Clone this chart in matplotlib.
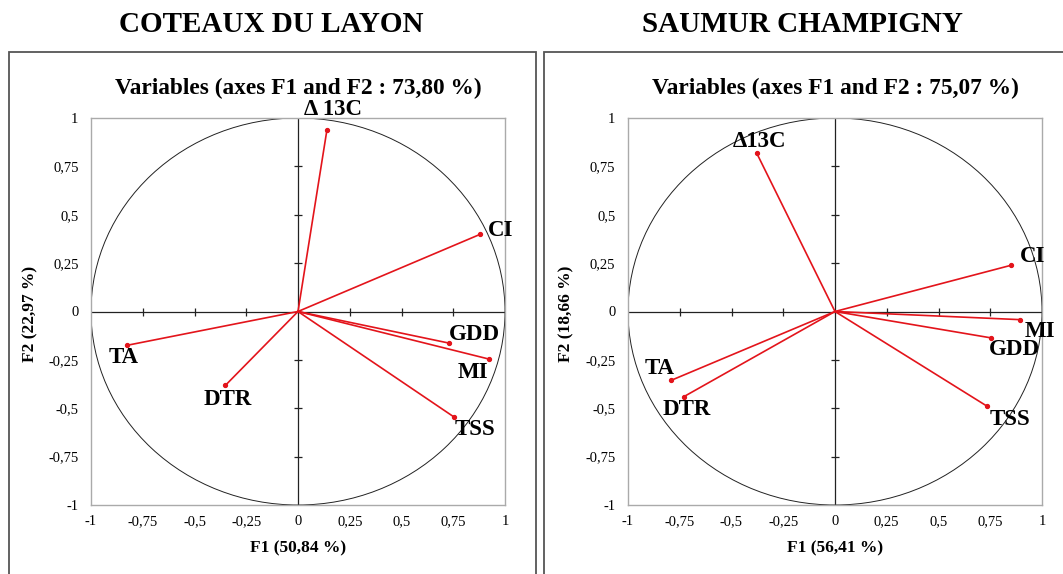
import numpy as np
import matplotlib.pyplot as plt
from matplotlib.patches import Circle, Rectangle

plt.rcParams['font.family'] = ['Liberation Serif', 'DejaVu Serif']

# ============================================
# data: PCA variable coordinates (F1, F2)
# ============================================
variables_layon = ['Δ 13C', 'CI', 'GDD', 'MI', 'TSS', 'TA', 'DTR']
f1_layon = [0.14, 0.878, 0.728, 0.923, 0.752, -0.827, -0.351]
f2_layon = [0.94, 0.398, -0.163, -0.246, -0.544, -0.175, -0.382]

variables_saumur = ['Δ13C', 'CI', 'MI', 'GDD', 'TSS', 'TA', 'DTR']
f1_saumur = [-0.379, 0.851, 0.892, 0.752, 0.734, -0.792, -0.730]
f2_saumur = [0.820, 0.239, -0.042, -0.136, -0.489, -0.356, -0.440]

# label anchors (data coords) for each variable name
lab_layon = [(0.17, 1.045), (0.98, 0.42), (0.85, -0.12), (0.845, -0.315),
             (0.853, -0.612), (-0.84, -0.24), (-0.34, -0.455)]
lab_saumur = [(-0.364, 0.88), (0.956, 0.285), (0.99, -0.105), (0.866, -0.197),
              (0.846, -0.56), (-0.845, -0.294), (-0.717, -0.505)]

ticks = [-1, -0.75, -0.5, -0.25, 0, 0.25, 0.5, 0.75, 1]
tick_labels = ['-1', '-0,75', '-0,5', '-0,25', '0', '0,25', '0,5', '0,75', '1']

W, H = 1063, 574
fig = plt.figure(figsize=(W / 100, H / 100), dpi=100)

# panel frames
for x0, x1 in [(9, 536), (544, 1075)]:
    fig.patches.append(Rectangle((x0 / W, -0.05), (x1 - x0) / W, 1 - 52 / H + 0.05,
                                 transform=fig.transFigure, fill=False,
                                 edgecolor='#555555', linewidth=1.3))

red = '#e3141b'


def draw_panel(left_px, names, f1, f2, labs, subtitle, xlabel):
    ax = fig.add_axes([left_px / W, (H - 505) / H, 414 / W, 387 / H])
    ax.set_xlim(-1, 1)
    ax.set_ylim(-1, 1)
    for s in ax.spines.values():
        s.set_color('#aaaaaa')
        s.set_linewidth(1.0)
    ax.set_xticks(ticks)
    ax.set_xticklabels(tick_labels)
    ax.set_yticks(ticks)
    ax.set_yticklabels(tick_labels)
    ax.tick_params(length=0, labelsize=10.5, pad=9)
    ax.tick_params(axis='x', pad=7)

    ax.add_patch(Circle((0, 0), 1, fill=False, edgecolor='#222222', linewidth=0.7))
    ax.axhline(0, color='#222222', linewidth=0.9)
    ax.axvline(0, color='#222222', linewidth=0.9)
    tk = [t for t in ticks if t not in (-1, 0, 1)]
    ax.plot(tk, [0] * len(tk), linestyle='none', marker='|', markersize=6,
            color='#222222', markeredgewidth=0.9)
    ax.plot([0] * len(tk), tk, linestyle='none', marker='_', markersize=6,
            color='#222222', markeredgewidth=0.9)

    for name, x, y, (lx, ly) in zip(names, f1, f2, labs):
        ax.plot([0, x], [0, y], color=red, linewidth=1.2)
        ax.plot(x, y, 'o', color=red, markersize=2.8)
        ax.text(lx, ly, name, fontsize=16.5, fontweight='bold', ha='center',
                va='center', clip_on=False)

    cx = (left_px + 207) / W
    fig.text(cx, 1 - 88 / H, subtitle, fontsize=16.8, fontweight='bold',
             ha='center', va='center')
    fig.text(cx, 1 - 548 / H, xlabel, fontsize=12.5, fontweight='bold',
             ha='center', va='center')
    return ax


draw_panel(91, variables_layon, f1_layon, f2_layon, lab_layon,
           'Variables (axes F1 and F2 : 73,80 %)', 'F1 (50,84 %)')
draw_panel(628, variables_saumur, f1_saumur, f2_saumur, lab_saumur,
           'Variables (axes F1 and F2 : 75,07 %)', 'F1 (56,41 %)')

fig.text(30 / W, 1 - 314 / H, 'F2 (22,97 %)', fontsize=12.5, fontweight='bold',
         rotation=90, ha='center', va='center')
fig.text(566 / W, 1 - 314 / H, 'F2 (18,66 %)', fontsize=12.5, fontweight='bold',
         rotation=90, ha='center', va='center')

fig.text(271 / W, 1 - 25 / H, 'COTEAUX DU LAYON', fontsize=21, fontweight='bold',
         ha='center', va='center')
fig.text(802 / W, 1 - 25 / H, 'SAUMUR CHAMPIGNY', fontsize=21, fontweight='bold',
         ha='center', va='center')

fig.savefig('out.png', dpi=100)
